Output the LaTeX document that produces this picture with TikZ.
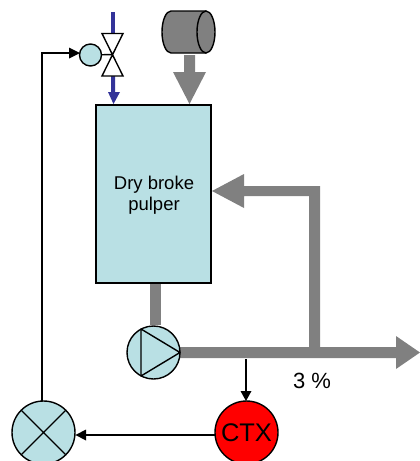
\documentclass[tikz,border=0pt]{standalone}
\usepackage{fontspec}
\setmainfont{Liberation Sans}
\definecolor{paleblue}{HTML}{B9E0E4}
\definecolor{pipegrey}{HTML}{808080}
\definecolor{waterblue}{HTML}{333399}
\tikzset{
  unit/.style={draw=black,fill=paleblue,circle,minimum size=#1,inner sep=0pt,outer sep=0pt},
  sig/.style={draw=black},
  sighead/.style={fill=black,draw=none},
  pipe/.style={fill=pipegrey,draw=none},
  water/.style={fill=waterblue,draw=none}
}
\begin{document}
\begin{tikzpicture}[x=1pt,y=-1pt,line width=1.4pt]
\useasboundingbox (0,0) rectangle (420,461);
\clip (0,0) rectangle (420,461);
% grey pipes
\fill[pipe] (184,55) -- (195,55) -- (195,72) -- (206,72) -- (189.5,104) -- (173,72) -- (184,72) -- cycle;
\fill[pipe] (150,283) rectangle (161,325);
\fill[pipe] (180,347) -- (396,347) -- (396,336) -- (420,352.5) -- (396,369) -- (396,358) -- (180,358) -- cycle;
\fill[pipe] (320,347) -- (320,186) -- (244,186) -- (244,174) -- (212,191) -- (244,208) -- (244,196) -- (309,196) -- (309,347) -- cycle;
% tank
\node[draw=black,fill=paleblue,minimum width=115pt,minimum height=178pt,inner sep=0pt,outer sep=0pt] (tank) at (153.5,194) {};
\node[align=center,font=\fontsize{18.5}{21.5}\selectfont] (tanklabel) at (154,195) {Dry broke\\pulper};
% motor
\draw[fill=pipegrey] (206,11) -- (171,11) arc[start angle=90,end angle=270,x radius=9,y radius=-21] -- (206,53);
\draw[fill=pipegrey] (206,32) ellipse[x radius=9,y radius=21];
% water
\fill[water] (111,12) rectangle (115,34);
\fill[water] (111,76) -- (115,76) -- (115,92) -- (120,92) -- (113.5,104) -- (108,92) -- (111,92) -- cycle;
% valve
\coordinate (vc) at (113,54.5);
\draw[fill=white] (102,33.5) -- (123,33.5) -- (102,76) -- (123,76) -- cycle;
\node[unit=22pt] (act) at (90.5,55) {};
\draw (act) -- (vc);
% pump
\node[unit=53pt] (pump) at (153.5,352.5) {};
\draw[line join=round] (141,329) -- (141,376) -- (180,352.5) -- cycle;
% ctx
\node[unit=63pt,fill=red,font=\fontsize{25.5}{30}\selectfont] (ctx) at (246.5,432.5) {CTX};
% mixer
\node[unit=63pt] (mix) at (43.5,432.5) {};
\draw (21.3,410.3) -- (65.7,454.7) (65.7,410.3) -- (21.3,454.7);
% signals
\coordinate (tap) at (246,359);
\coordinate (corner) at (42,53);
\draw[sig] (tap) -- (246,392);
\fill[sighead] (240.5,391) -- (251.5,391) -- (246,401) -- cycle;
\draw[sig] (215,435) -- (85,435);
\fill[sighead] (86,429.5) -- (86,440.5) -- (75.5,435) -- cycle;
\draw[sig] (42,401) -- (corner) -- (70,53);
\fill[sighead] (69,47.5) -- (69,58.5) -- (80,53) -- cycle;
\node[font=\fontsize{22}{26}\selectfont] (pct) at (312,381) {3 \%};
\end{tikzpicture}
\end{document}
